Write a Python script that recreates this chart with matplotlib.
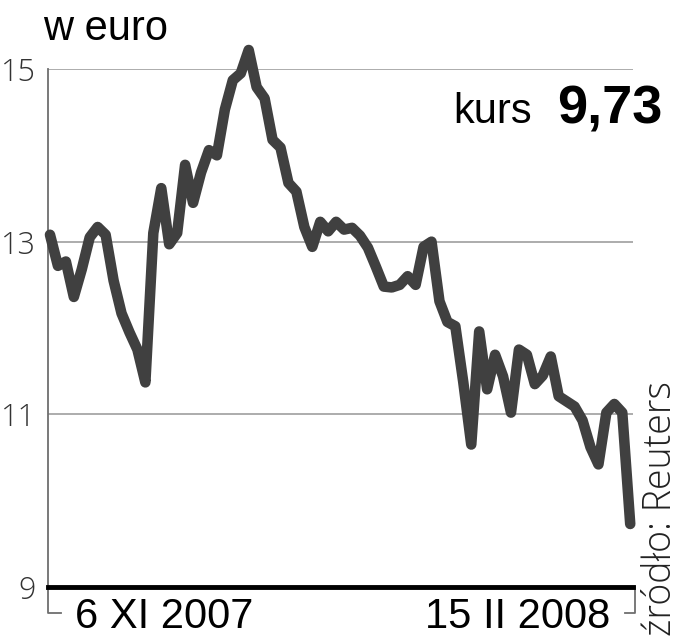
import matplotlib

matplotlib.use("Agg")
import matplotlib.pyplot as plt
import numpy as np

# daily closing price (EUR), 6 XI 2007 .. 15 II 2008
price = [
    13.08, 12.72, 12.77, 12.36, 12.68, 13.05, 13.17, 13.08, 12.55, 12.17,
    11.95, 11.75, 11.37, 13.10, 13.62, 12.97, 13.10, 13.89, 13.45, 13.80,
    14.06, 14.00, 14.53, 14.87, 14.95, 15.22, 14.79, 14.66, 14.18, 14.09,
    13.68, 13.58, 13.17, 12.94, 13.23, 13.12, 13.23, 13.14, 13.16, 13.07,
    12.93, 12.71, 12.48, 12.47, 12.50, 12.60, 12.50, 12.94, 13.00, 12.31,
    12.07, 12.02, 11.37, 10.65, 11.96, 11.29, 11.69, 11.44, 11.02, 11.75,
    11.69, 11.35, 11.45, 11.67, 11.21, 11.15, 11.09, 10.93, 10.62, 10.42,
    11.02, 11.12, 11.02, 9.73,
]
y_ticks = [9, 11, 13, 15]
first_label = "6 XI 2007"
last_label = "15 II 2008"
last_value = "9,73"

FONT = ["Liberation Sans", "DejaVu Sans"]
LIGHT = ["Open Sans", "DejaVu Sans"]

x = np.arange(len(price))

fig = plt.figure(figsize=(6.81, 6.4), dpi=100)
ax = fig.add_axes([48 / 681, 53 / 640, 585 / 681, 518 / 640])

ax.set_xlim(-0.25, len(price) - 1 + 0.35)
ax.set_ylim(9, 15)

for v in y_ticks[1:]:
    ax.axhline(v, color="#a6a6a6", lw=1.3, zorder=1)

ax.plot(x, price, color="#404040", lw=7.6, solid_capstyle="round",
        solid_joinstyle="round", clip_on=False, zorder=3)

for s in ("top", "right"):
    ax.spines[s].set_visible(False)
ax.spines["left"].set_color("#6e6e6e")
ax.spines["left"].set_linewidth(1.3)
ax.spines["bottom"].set_color("black")
ax.spines["bottom"].set_linewidth(3.5)
ax.spines["bottom"].set_zorder(4)

ax.set_xticks([])
ax.set_yticks(y_ticks)
ax.set_yticklabels([str(v) for v in y_ticks], family=LIGHT, fontweight="light",
                   fontsize=22, color="#333333")
ax.tick_params(axis="y", length=0, pad=9)

# small brackets under the time axis
ax.plot([0, 0, 13 / 585], [0, -0.051, -0.051], transform=ax.transAxes,
        color="#6e6e6e", lw=1.3, clip_on=False)
ax.plot([1.003, 1.003, 0.986], [0, -0.051, -0.051], transform=ax.transAxes,
        color="#6e6e6e", lw=1.3, clip_on=False)

fig.text(43 / 681, 1 - 40 / 640, "w euro", family=FONT, fontsize=30,
         ha="left", va="baseline")
fig.text(532 / 681, 1 - 123 / 640, "kurs", family=FONT, fontsize=30,
         ha="right", va="baseline")
fig.text(557 / 681, 1 - 123 / 640, last_value, family=FONT, fontsize=39,
         fontweight="bold", ha="left", va="baseline")

fig.text(75 / 681, 1 - 628 / 640, first_label, family=FONT, fontsize=30,
         ha="left", va="baseline")
fig.text(610 / 681, 1 - 628 / 640, last_label, family=FONT, fontsize=30,
         ha="right", va="baseline")

fig.text(680 / 681, 1 - 636 / 640, "źródło: Reuters", family=LIGHT,
         fontweight="light", fontsize=27, rotation=90, ha="right", va="bottom",
         color="#222222")

fig.savefig("out.png", dpi=100, facecolor="white")
plt.close(fig)
